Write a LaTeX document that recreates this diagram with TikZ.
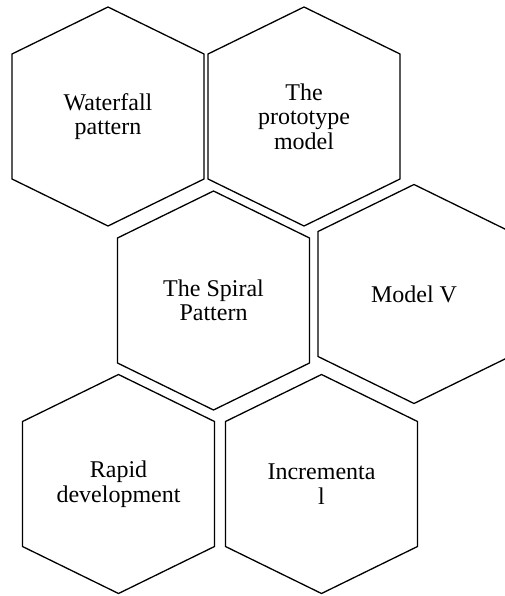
\documentclass[tikz,border=0pt]{standalone}
\usepackage{fontspec}
\setmainfont{Liberation Serif}
\usetikzlibrary{positioning}

\tikzset{
  hexline/.style={draw=black, line width=1.3pt, line join=miter},
  hextext/.style={align=center, inner sep=0pt, font=\fontsize{24}{24.5}\selectfont}
}

\begin{document}
\begin{tikzpicture}[x=1pt, y=-1pt]
        \useasboundingbox (0,0) rectangle (504,596);
        % labels, one per cell
        \node[hextext] (waterfall) at (108,116.5) {Waterfall\\pattern};
        \node[hextext] (prototype) at (304,116.5) {The\\prototype\\model};
        \node[hextext] (spiral) at (213.5,300.5) {The Spiral\\Pattern};
        \node[hextext] (modelv) at (414,294) {Model V};
        \node[hextext] (rapid) at (118.5,484) {Rapid\\development};
        \node[hextext] (incremental) at (321.5,484) {Incrementa\\l};
        % hexagon round each label
        \foreach \n in {waterfall,prototype,spiral,modelv,rapid,incremental}
          \draw[hexline] (\n.center) ++(0,-109.5) -- ++(96,47) -- ++(0,125)
            -- ++(-96,47) -- ++(-96,-47) -- ++(0,-125) -- cycle;
    \end{tikzpicture}
\end{document}
